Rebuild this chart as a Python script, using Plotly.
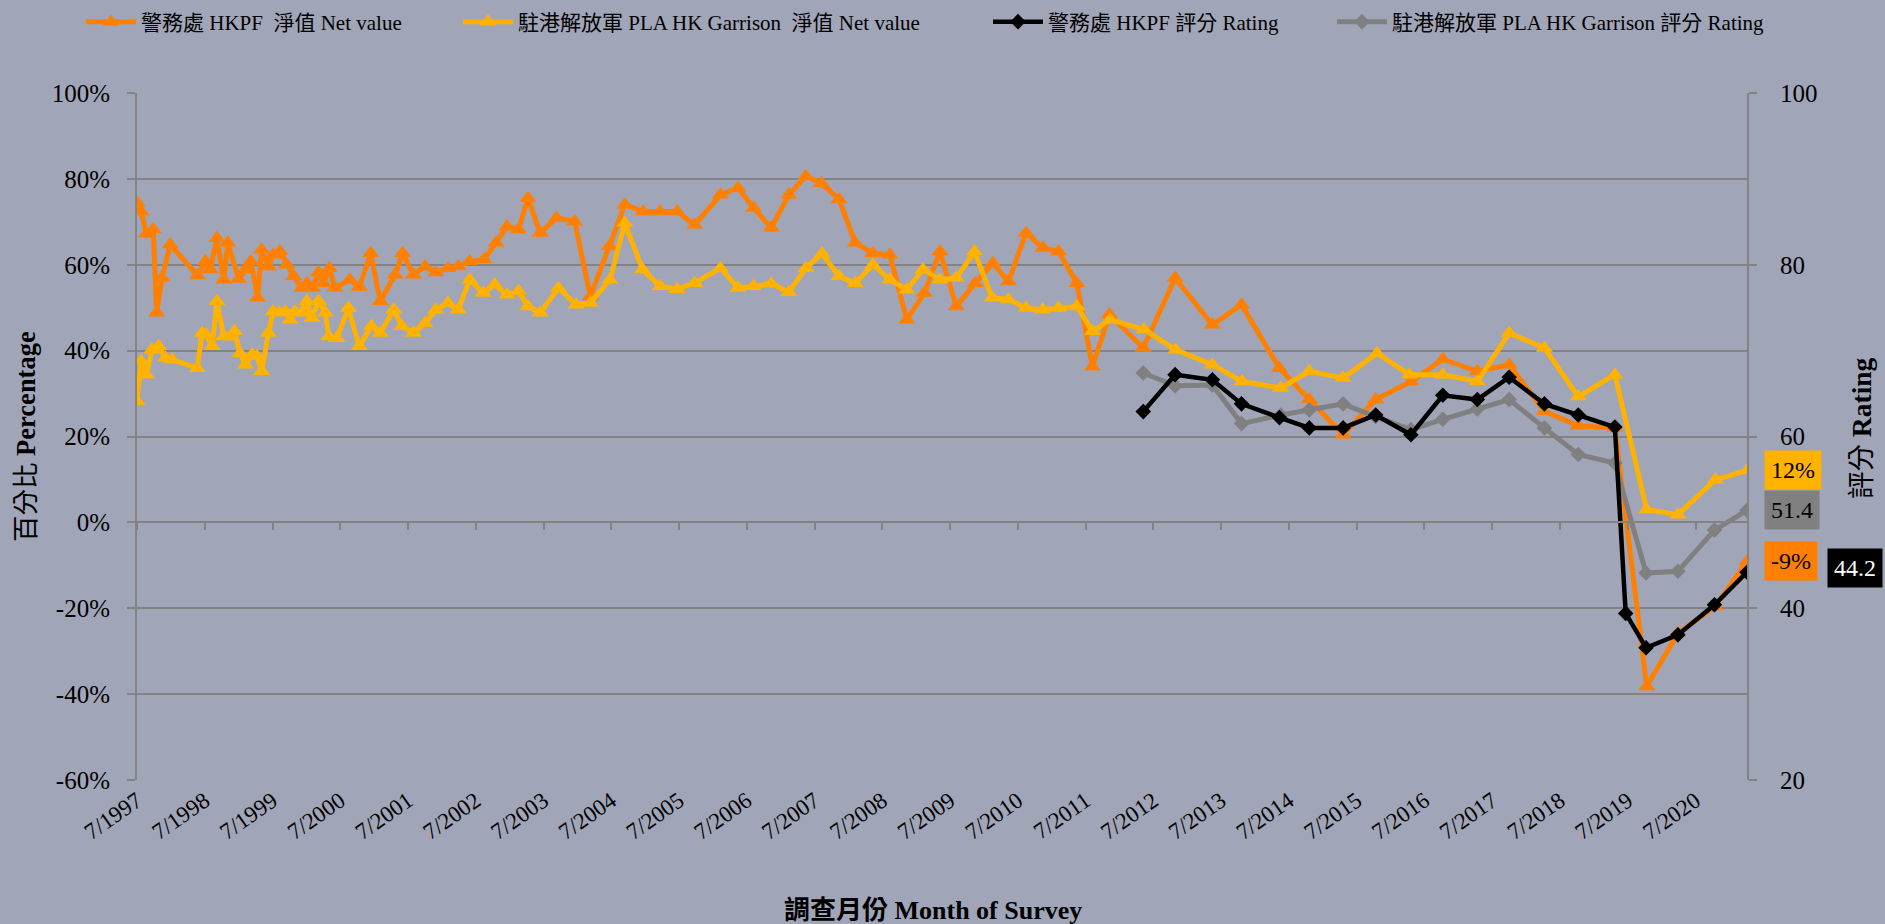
import plotly.graph_objects as go

# ---------------- data (survey time as decimal year) ----------------
hkpf_net_x = [
    1997.50, 1997.56, 1997.64, 1997.74, 1997.79, 1997.87, 1997.99, 1998.39, 1998.51, 1998.58,
    1998.68, 1998.78, 1998.84, 1999.00, 1999.10, 1999.18, 1999.28, 1999.34, 1999.44, 1999.51,
    1999.61, 1999.71, 1999.81, 1999.93, 2000.01, 2000.09, 2000.18, 2000.25, 2000.34, 2000.42,
    2000.64, 2000.78, 2000.95, 2001.09, 2001.31, 2001.42, 2001.58, 2001.75, 2001.91, 2002.09,
    2002.24, 2002.41, 2002.62, 2002.80, 2002.96, 2003.13, 2003.27, 2003.45, 2003.69, 2003.96,
    2004.19, 2004.47, 2004.70, 2004.97, 2005.22, 2005.47, 2005.73, 2006.11, 2006.37, 2006.60,
    2006.86, 2007.12, 2007.37, 2007.60, 2007.86, 2008.10, 2008.36, 2008.61, 2008.86, 2009.12,
    2009.35, 2009.59, 2009.87, 2010.13, 2010.36, 2010.62, 2010.87, 2011.10, 2011.37, 2011.60,
    2011.85, 2012.35, 2012.82, 2013.37, 2013.80, 2014.36, 2014.80, 2015.30, 2015.78, 2016.30,
    2016.77, 2017.28, 2017.75, 2018.27, 2018.77, 2019.31, 2019.78, 2020.24, 2020.79, 2021.26,
]
hkpf_net = [
    74.5, 72.4, 67.2, 68.2, 48.8, 56.9, 64.7, 57.5, 60.8, 58.9,
    66.2, 56.5, 65.1, 56.7, 58.9, 60.8, 52.3, 63.5, 59.6, 62.3,
    63.1, 60.0, 57.3, 54.6, 55.7, 54.6, 58.2, 55.7, 59.2, 54.6,
    56.5, 54.8, 62.7, 51.5, 57.7, 62.7, 57.7, 59.6, 58.2, 59.2,
    59.6, 60.8, 61.2, 65.1, 68.9, 68.2, 75.5, 67.4, 70.9, 70.1,
    52.6, 64.3, 74.0, 72.4, 72.4, 72.4, 69.3, 76.3, 77.9, 73.2,
    68.6, 76.3, 80.6, 79.0, 75.2, 65.1, 62.7, 62.3, 47.2, 53.4,
    63.1, 50.3, 55.7, 60.4, 56.1, 67.4, 63.9, 63.1, 55.7, 36.3,
    48.4, 40.6, 56.9, 46.0, 50.7, 35.9, 28.6, 20.4, 28.6, 32.8,
    38.0, 35.2, 36.7, 25.9, 22.5, 22.0, -38.2, -25.8, -19.6, -9.1,
]

pla_net_x = [
    1997.50, 1997.56, 1997.64, 1997.72, 1997.82, 1997.92, 1998.02, 1998.39, 1998.46, 1998.52,
    1998.61, 1998.68, 1998.78, 1998.88, 1998.94, 1999.02, 1999.10, 1999.20, 1999.27, 1999.34,
    1999.44, 1999.51, 1999.60, 1999.69, 1999.76, 1999.83, 1999.93, 2000.01, 2000.08, 2000.18,
    2000.28, 2000.33, 2000.45, 2000.62, 2000.78, 2000.96, 2001.09, 2001.29, 2001.41, 2001.58,
    2001.75, 2001.91, 2002.09, 2002.24, 2002.41, 2002.61, 2002.78, 2002.96, 2003.13, 2003.27,
    2003.45, 2003.72, 2003.98, 2004.19, 2004.48, 2004.70, 2004.96, 2005.22, 2005.47, 2005.73,
    2006.11, 2006.37, 2006.60, 2006.86, 2007.12, 2007.37, 2007.61, 2007.86, 2008.10, 2008.36,
    2008.61, 2008.86, 2009.10, 2009.35, 2009.59, 2009.86, 2010.12, 2010.36, 2010.62, 2010.87,
    2011.10, 2011.37, 2011.60, 2011.86, 2012.36, 2012.83, 2013.37, 2013.81, 2014.38, 2014.80,
    2015.30, 2015.80, 2016.28, 2016.77, 2017.28, 2017.75, 2018.27, 2018.77, 2019.31, 2019.78,
    2020.24, 2020.79, 2021.26,
]
pla_net = [
    28.2, 37.5, 34.4, 40.2, 41.0, 38.3, 37.9, 35.9, 44.1, 43.7,
    41.0, 51.5, 43.3, 43.3, 44.5, 39.4, 36.7, 39.1, 38.7, 35.2,
    44.1, 49.1, 48.8, 49.1, 47.2, 49.1, 48.8, 51.5, 47.6, 51.5,
    48.8, 43.3, 42.9, 49.9, 41.0, 45.7, 44.1, 49.5, 45.7, 44.1,
    46.4, 49.5, 51.1, 49.5, 56.5, 53.4, 55.4, 53.0, 53.8, 50.3,
    48.8, 54.6, 50.7, 51.1, 56.5, 69.7, 58.9, 55.0, 54.3, 55.7,
    59.2, 54.6, 55.0, 55.6, 53.6, 59.2, 62.6, 57.3, 55.7, 60.0,
    56.5, 54.2, 58.9, 56.5, 56.9, 63.1, 52.3, 51.9, 49.9, 49.5,
    49.9, 50.3, 44.5, 47.2, 44.9, 40.2, 36.7, 32.8, 31.3, 35.2,
    33.6, 39.4, 34.4, 34.4, 32.8, 44.1, 40.6, 29.3, 34.4, 3.0,
    1.8, 9.9, 12.1,
]

hkpf_rating_x = [
    2012.35, 2012.82, 2013.37, 2013.80, 2014.36, 2014.80, 2015.30, 2015.78, 2016.30, 2016.77,
    2017.28, 2017.75, 2018.27, 2018.77, 2019.31, 2019.47, 2019.77, 2020.24, 2020.78, 2021.26,
]
hkpf_rating = [
    62.9, 67.2, 66.6, 63.8, 62.2, 61.0, 61.0, 62.5, 60.2, 64.8,
    64.3, 66.9, 63.8, 62.5, 61.1, 39.4, 35.4, 36.9, 40.4, 44.2,
]

pla_rating_x = [
    2012.35, 2012.82, 2013.37, 2013.80, 2014.38, 2014.80, 2015.30, 2015.78, 2016.30, 2016.77,
    2017.28, 2017.75, 2018.27, 2018.77, 2019.31, 2019.77, 2020.24, 2020.78, 2021.26,
]
pla_rating = [
    67.4, 65.9, 66.0, 61.5, 62.5, 63.1, 63.8, 62.3, 60.8, 62.0,
    63.2, 64.3, 61.0, 57.9, 56.9, 44.1, 44.3, 49.1, 51.4,
]

tick_years = list(range(1997, 2021))
tick_labels = [f"7/{y}" for y in tick_years]
tick_positions = [y + 0.5 for y in tick_years]

pct_ticks = [-60, -40, -20, 0, 20, 40, 60, 80, 100]
pct_tick_labels = [f"{v}%" for v in pct_ticks]
rating_ticks = [20, 40, 60, 80, 100]

series_names = [
    "警務處 HKPF  淨值 Net value",
    "駐港解放軍 PLA HK Garrison  淨值 Net value",
    "警務處 HKPF 評分 Rating",
    "駐港解放軍 PLA HK Garrison 評分 Rating",
]

# ---------------- style ----------------
BG = "#A0A5B8"
GRID = "#838383"
ORANGE = "#FF8000"
YELLOW = "#FFB200"
BLACK = "#000000"
GRAY = "#808080"
FONT = "Liberation Serif, 'Noto Sans CJK TC', serif"

W, H = 1885, 924
L, R, T, B = 137, 138, 93, 144

fig = go.Figure()

fig.add_trace(go.Scatter(
    x=hkpf_net_x, y=hkpf_net, name=series_names[0], mode="lines+markers",
    line=dict(color=ORANGE, width=5), marker=dict(symbol="triangle-up", size=15, color=ORANGE),
    legend="legend"))
fig.add_trace(go.Scatter(
    x=pla_net_x, y=pla_net, name=series_names[1], mode="lines+markers",
    line=dict(color=YELLOW, width=5), marker=dict(symbol="triangle-up", size=15, color=YELLOW),
    legend="legend2"))
fig.add_trace(go.Scatter(
    x=pla_rating_x, y=pla_rating, name=series_names[3], mode="lines+markers", yaxis="y2",
    line=dict(color=GRAY, width=5), marker=dict(symbol="diamond", size=12, color=GRAY),
    legend="legend4"))
fig.add_trace(go.Scatter(
    x=hkpf_rating_x, y=hkpf_rating, name=series_names[2], mode="lines+markers", yaxis="y2",
    line=dict(color=BLACK, width=4.5), marker=dict(symbol="diamond", size=12, color=BLACK),
    legend="legend3"))
# helper trace so the zero-line category axis (ticks at 0%) gets drawn
fig.add_trace(go.Scatter(x=[None], y=[None], xaxis="x2", yaxis="y", showlegend=False,
                         hoverinfo="skip"))

xrange = [hkpf_net_x[0], hkpf_net_x[-1]]

fig.update_layout(
    width=W, height=H,
    margin=dict(l=L, r=R, t=T, b=B),
    paper_bgcolor=BG, plot_bgcolor=BG,
    font=dict(family=FONT, color="black"),
    xaxis=dict(
        range=xrange, tickmode="array", tickvals=tick_positions, ticktext=tick_labels,
        tickangle=-35, tickfont=dict(size=23, family=FONT, color="black"),
        showgrid=False, showline=False, zeroline=False, ticks="",
        ticklabelstandoff=2,
    ),
    xaxis2=dict(
        range=xrange, overlaying="x", anchor="free", position=0.375, side="bottom",
        tickmode="array", tickvals=tick_positions, showticklabels=False,
        ticks="outside", ticklen=7, tickwidth=2, tickcolor=GRID,
        showline=True, linecolor=GRID, linewidth=2, showgrid=False, zeroline=False,
    ),
    yaxis=dict(
        range=[-60, 100], tickmode="array", tickvals=pct_ticks, ticktext=pct_tick_labels,
        tickfont=dict(size=25, family=FONT, color="black"),
        showgrid=True, gridcolor=GRID, gridwidth=2, zeroline=False,
        showline=True, linecolor=GRID, linewidth=2,
        ticks="outside", ticklen=8, tickwidth=2, tickcolor=GRID,
        ticklabelstandoff=12,
    ),
    yaxis2=dict(
        range=[20, 100], tickmode="array", tickvals=rating_ticks, overlaying="y", side="right",
        tickfont=dict(size=25, family=FONT, color="black"),
        showgrid=False, zeroline=False,
        showline=True, linecolor=GRID, linewidth=2,
        ticks="outside", ticklen=8, tickwidth=2, tickcolor=GRID,
        ticklabelstandoff=18,
    ),
)

legend_common = dict(
    orientation="h", xref="container", yref="container", yanchor="middle", xanchor="left",
    y=1 - 22 / H, bgcolor="rgba(0,0,0,0)", font=dict(size=21, family=FONT, color="black"),
    itemwidth=50,
)
fig.update_layout(
    legend=dict(legend_common, x=81 / W),
    legend2=dict(legend_common, x=458 / W),
    legend3=dict(legend_common, x=988 / W),
    legend4=dict(legend_common, x=1332 / W),
)

# axis titles
def px_to_paper_x(px):
    return (px - L) / (W - L - R)

def px_to_paper_y(py):
    return (H - B - py) / (H - T - B)

fig.add_annotation(text="百分比 <b>Percentage</b>", xref="paper", yref="paper",
                   x=px_to_paper_x(26), y=px_to_paper_y(437), textangle=-90, showarrow=False,
                   xanchor="center", yanchor="middle",
                   font=dict(size=26.5, family=FONT, color="black"))
fig.add_annotation(text="評分 <b>Rating</b>", xref="paper", yref="paper",
                   x=px_to_paper_x(1861), y=px_to_paper_y(428), textangle=-90, showarrow=False,
                   xanchor="center", yanchor="middle",
                   font=dict(size=27.5, family=FONT, color="black"))
fig.add_annotation(text="<b>調查月份 Month of Survey</b>", xref="paper", yref="paper",
                   x=px_to_paper_x(933), y=px_to_paper_y(910), showarrow=False,
                   xanchor="center", yanchor="middle",
                   font=dict(size=26, family=FONT, color="black"))

# end-value labels
end_labels = [
    (pla_net_x[-1], pla_net[-1], "y", f"{pla_net[-1]:.0f}%", YELLOW, "black", 17, 0),
    (pla_rating_x[-1], pla_rating[-1], "y2", f"{pla_rating[-1]:.1f}", GRAY, "black", 17, 0),
    (hkpf_net_x[-1], hkpf_net[-1], "y", f"{hkpf_net[-1]:.0f}%", ORANGE, "black", 17, 0),
    (hkpf_rating_x[-1], hkpf_rating[-1], "y2", f"{hkpf_rating[-1]:.1f}", BLACK, "white", 80, 4),
]
for x, y, yref, txt, bg, fc, xs, ys in end_labels:
    fig.add_annotation(x=x, y=y, xref="x", yref=yref, text=txt, showarrow=False,
                       xanchor="left", yanchor="middle", xshift=xs, yshift=ys,
                       bgcolor=bg, borderpad=6, font=dict(size=24, family=FONT, color=fc))

fig.write_html("out.html", config={"displayModeBar": False},
               post_script="document.body.style.margin='0';")
